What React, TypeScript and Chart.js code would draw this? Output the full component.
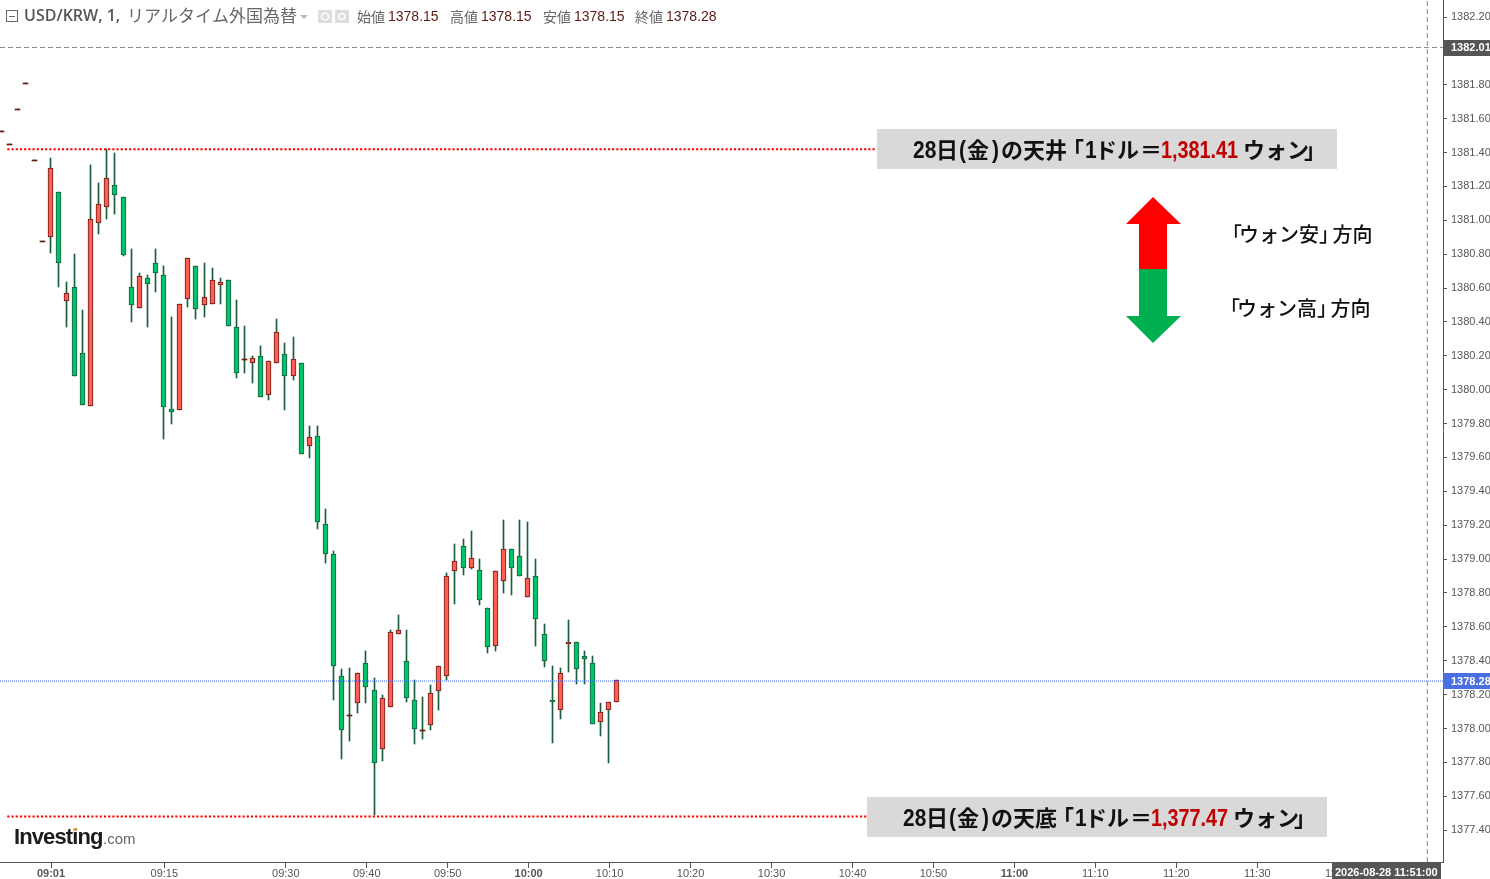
import React, { useEffect, useRef } from "react";
import { Chart, registerables } from "chart.js";

Chart.register(...registerables);

const opens = [1381.527,1381.45,1381.657,1381.81,1381.356,1380.878,
1380.901,1381.167,1380.524,1380.606,1380.217,1379.904,1380.984,1381.079,1381.208,1381.138,
1380.606,1380.482,1380.659,1380.748,1380.677,1379.886,1379.88,1380.535,1380.73,1380.5,
1380.506,1380.618,1380.648,1380.37,1380.181,1380.158,1380.199,1379.969,1380.158,1380.211,
1380.081,1380.158,1379.668,1379.727,1379.207,1379.03,1378.31,1378.08,1378.151,1378.387,
1378.227,1377.879,1378.127,1378.558,1378.398,1378.168,1377.991,1378.021,1378.221,1378.31,
1378.93,1379.077,1378.947,1378.936,1378.711,1378.487,1378.871,1379.06,1379.018,1378.776,
1378.9,1378.558,1378.168,1378.109,1378.499,1378.511,1378.428,1378.387,1378.038,1378.109,1378.156];
const closes = [1381.527,1381.45,1381.657,1381.81,1381.356,1380.878,
1381.309,1380.748,1380.571,1380.081,1379.91,1381.008,1381.096,1381.25,1381.149,1380.795,
1380.5,1380.671,1380.624,1380.689,1379.898,1379.868,1380.506,1380.777,1380.476,1380.547,
1380.648,1380.636,1380.376,1380.099,1380.181,1380.187,1379.957,1380.169,1380.341,1380.081,
1380.181,1379.62,1379.721,1379.219,1379.03,1378.369,1377.991,1378.08,1378.328,1378.245,
1377.796,1378.18,1378.57,1378.581,1378.18,1377.997,1377.991,1378.21,1378.369,1378.9,
1378.989,1378.947,1379.006,1378.759,1378.481,1378.93,1379.06,1378.947,1378.9,1378.888,
1378.646,1378.398,1378.156,1378.328,1378.511,1378.351,1378.41,1378.027,1378.097,1378.156,1378.286];
const highs = [1381.527,1381.45,1381.657,1381.81,1381.356,1380.878,
1381.368,1381.167,1380.636,1380.801,1380.47,1381.326,1381.22,1381.421,1381.397,1381.138,
1380.831,1380.689,1380.677,1380.831,1380.73,1380.429,1380.506,1380.777,1380.73,1380.748,
1380.718,1380.659,1380.648,1380.53,1380.376,1380.2,1380.258,1380.169,1380.417,1380.276,
1380.311,1380.158,1379.786,1379.786,1379.296,1379.048,1378.351,1378.357,1378.328,1378.457,
1378.298,1378.198,1378.581,1378.67,1378.581,1378.286,1378.186,1378.257,1378.369,1378.918,
1379.089,1379.119,1379.166,1379.001,1378.711,1378.93,1379.231,1379.06,1379.231,1379.219,
1379.001,1378.617,1378.369,1378.357,1378.641,1378.511,1378.457,1378.428,1378.151,1378.156,1378.286];
const lows = [1381.527,1381.45,1381.657,1381.81,1381.356,1380.878,
1380.807,1380.606,1380.37,1380.081,1379.91,1379.904,1380.919,1381.008,1381.037,1380.789,
1380.4,1380.482,1380.37,1380.577,1379.709,1379.798,1379.88,1380.488,1380.417,1380.429,
1380.506,1380.506,1380.376,1380.069,1380.099,1380.04,1379.957,1379.939,1380.158,1379.88,
1380.057,1379.62,1379.597,1379.178,1378.977,1378.168,1377.82,1377.926,1378.092,1378.151,
1377.49,1377.808,1378.127,1378.558,1378.156,1377.909,1377.938,1377.991,1378.109,1378.286,
1378.735,1378.906,1378.942,1378.729,1378.446,1378.457,1378.8,1378.788,1378.9,1378.776,
1378.487,1378.363,1377.915,1378.056,1378.334,1378.263,1378.263,1378.027,1377.956,1377.796,1378.156];

const firstMinute = -6; // minutes relative to 09:01
const timeTickMinutes = [0,14,29,39,49,59,69,79,89,99,109,119,129,139,149,159];
const timeTickLabels = ["09:01","09:15","09:30","09:40","09:50","10:00","10:10","10:20","10:30","10:40","10:50","11:00","11:10","11:20","11:30","11:40"];
const boldTimeLabels = ["09:01","10:00","11:00"];
const priceTicks = [1382.2,1381.8,1381.6,1381.4,1381.2,1381,1380.8,1380.6,1380.4,1380.2,1380,1379.8,1379.6,1379.4,1379.2,1379,1378.8,1378.6,1378.4,1378.2,1378,1377.8,1377.6,1377.4];

const ceilingLevel = 1381.42;
const floorLevel = 1377.48;
const lastPrice = 1378.28;
const crossPrice = 1382.02;
const crossMinute = 170;

const minutes = opens.map((_, i) => firstMinute + i);
const FONT_JP = '"Noto Sans CJK JP"';
const LATIN = '"Liberation Sans"';

function seg(ctx: any, x: number, y: number, parts: [string, string, string, number?][]) {
  let cx = x;
  for (const [t, font, color, adv] of parts) {
    ctx.font = font;
    ctx.fillStyle = color;
    ctx.fillText(t, cx, y);
    cx += adv ?? ctx.measureText(t).width;
  }
  return cx;
}

const snapPlugin = {
  id: "snap",
  beforeDatasetsDraw(chart: any) {
    chart.data.datasets.forEach((ds: any, i: number) => {
      if (ds.type === "line") return;
      const meta = chart.getDatasetMeta(i);
      meta.data.forEach((el: any) => {
        if (!el.$snapped) {
          el.x = Math.round(el.x - 1.3) + 0.5;
          el.$snapped = true;
        }
        const a = Math.round(el.y);
        let b = Math.round(el.base);
        if (ds.label === "body" && Math.abs(a - b) < 1) b = a + 1;
        el.y = a;
        el.base = b;
        el.height = b - a;
      });
    });
  },
};

const overlayPlugin = {
  id: "overlay",
  afterDraw(chart: any) {
    const ctx = chart.ctx;
    const yS = chart.scales.y;
    const xS = chart.scales.x;
    ctx.save();
    ctx.textBaseline = "middle";
    ctx.textAlign = "left";

    // header
    ctx.strokeStyle = "#666";
    ctx.lineWidth = 1;
    ctx.strokeRect(6.5, 10.5, 11, 11);
    ctx.beginPath(); ctx.moveTo(9, 16.5); ctx.lineTo(15, 16.5); ctx.stroke();
    seg(ctx, 24, 16, [["USD/KRW, 1,", `600 16px "Open Sans"`, "#555"]]);
    seg(ctx, 127, 16, [["リアルタイム外国為替", `17px ${FONT_JP}`, "#666"]]);
    ctx.fillStyle = "#bbb";
    ctx.beginPath(); ctx.moveTo(300, 15); ctx.lineTo(308, 15); ctx.lineTo(304, 19); ctx.fill();
    ctx.fillStyle = "#ddd";
    ctx.fillRect(318, 10, 14, 13);
    ctx.fillRect(335, 10, 14, 13);
    ctx.strokeStyle = "#fff"; ctx.lineWidth = 1.5;
    ctx.beginPath(); ctx.arc(325, 16.5, 3.5, 0, Math.PI * 2); ctx.stroke();
    ctx.beginPath(); ctx.arc(342, 16.5, 3, 0, Math.PI * 2); ctx.stroke();
    const hdr: [string, string, number][] = [["始値","1378.15",357],["高値","1378.15",450],["安値","1378.15",543],["終値","1378.28",635]];
    hdr.forEach(([k, v, x]) => {
      seg(ctx, x, 17, [[k, `14px ${FONT_JP}`, "#666", 31], [v, `14px ${LATIN}`, "#5b1a14"]]);
    });

    // annotation boxes
    const note = (boxX: number, textX: number, level: number, word: string, val: string) => {
      const cy = Math.round(yS.getPixelForValue(level));
      ctx.fillStyle = "#d9d9d9";
      ctx.fillRect(boxX, cy - 20, 460, 40);
      const j = `bold 22px ${FONT_JP}`;
      const l = `bold 23px ${LATIN}`;
      const items: [string, number, string, string, number][] = [
        ["28", 0, l, "#111", 0.91], ["日", 23, j, "#111", 1], ["(", 46, l, "#111", 0.91], ["金", 54, j, "#111", 1],
        [")", 79, l, "#111", 0.91], ["の", 88, j, "#111", 1], [word, 110, j, "#111", 1], ["「", 149, j, "#111", 1],
        ["1", 172, l, "#111", 0.91], ["ドル", 182, j, "#111", 1], ["＝", 227, j, "#111", 1], [val, 248, l, "#c00000", 0.86],
        ["ウォン", 330, j, "#111", 1], ["」", 391, j, "#111", 1],
      ];
      ctx.textBaseline = "alphabetic";
      items.forEach(([t, dx, font, color, sx]) => {
        ctx.save();
        ctx.font = font; ctx.fillStyle = color;
        ctx.translate(textX + dx, cy + 9);
        ctx.scale(sx, 1);
        ctx.fillText(t, 0, 0);
        ctx.restore();
      });
      ctx.textBaseline = "middle";
    };
    note(877, 913, ceilingLevel, "天井", "1,381.41");
    note(867, 903, floorLevel, "天底", "1,377.47");

    // direction arrows
    ctx.fillStyle = "#ff0000";
    ctx.beginPath();
    [[1153,197],[1181,224],[1167,224],[1167,269],[1139,269],[1139,224],[1126,224]].forEach(([x,y],i)=> i?ctx.lineTo(x,y):ctx.moveTo(x,y));
    ctx.closePath(); ctx.fill();
    ctx.fillStyle = "#00b050";
    ctx.beginPath();
    [[1139,269],[1167,269],[1167,316],[1181,316],[1153,343],[1126,316],[1139,316]].forEach(([x,y],i)=> i?ctx.lineTo(x,y):ctx.moveTo(x,y));
    ctx.closePath(); ctx.fill();
    const dirLabel = (dx: number, y: number, word: string) => {
      ctx.font = `500 20px ${FONT_JP}`;
      ctx.fillStyle = "#111";
      ctx.fillText("「", 1222 + dx, y);
      ctx.fillText("ウォン" + word, 1239 + dx, y);
      ctx.fillText("」", 1319 + dx, y);
      ctx.fillText("方向", 1332.5 + dx, y);
    };
    dirLabel(0, 234, "安");
    dirLabel(-2, 308, "高");

    // logo
    ctx.font = `bold 22px ${LATIN}`;
    ctx.letterSpacing = "-0.9px";
    ctx.fillStyle = "#1c1c1c";
    ctx.fillText("Investing", 14, 838);
    ctx.letterSpacing = "0px";
    ctx.font = `15px ${LATIN}`;
    ctx.fillStyle = "#666";
    ctx.fillText(".com", 103, 840);
    ctx.fillStyle = "#f5a623";
    ctx.fillRect(73.5, 828, 3, 3);

    // axis badges
    const area = chart.chartArea;
    const badge = (value: number, text: string, bg: string) => {
      const y = yS.getPixelForValue(value);
      ctx.fillStyle = bg;
      ctx.fillRect(area.right, Math.round(y) - 8, 47, 16);
      ctx.font = `bold 11px ${LATIN}`;
      ctx.fillStyle = "#fff";
      ctx.fillText(text, 1451, y + 0.5);
    };
    badge(lastPrice, "1378.28", "#4a6fe3");
    badge(crossPrice, "1382.01", "#555");
    const cx = xS.getPixelForValue(crossMinute);
    ctx.fillStyle = "#555";
    ctx.fillRect(1332, area.bottom + 1, 109, 17);
    ctx.font = `bold 11px ${LATIN}`;
    ctx.fillStyle = "#fff";
    ctx.textAlign = "center";
    ctx.fillText("2026-08-28 11:51:00", cx - 41, 873);
    ctx.restore();
  },
};

export default function App() {
  const ref = useRef<HTMLCanvasElement>(null);
  useEffect(() => {
    document.body.style.margin = "0";
    document.documentElement.style.overflow = "hidden";
    const xMin = -6.3, xMax = 171.94;
    const levelLine = (label: string, pts: number[][], color: string, dash: number[], width: number, order: number) => ({
      type: "line", label, data: pts.map(([x, y]) => ({ x, y })), borderColor: color, borderDash: dash,
      borderWidth: width, pointRadius: 0, fill: false, tension: 0, order,
    });
    const chart = new Chart(ref.current as any, {
      type: "bar",
      data: {
        datasets: [
          levelLine("ceiling", [[-5.4, ceilingLevel], [101.8, ceilingLevel]], "#ff0000", [2.2, 2], 2, 1),
          levelLine("floor", [[-5.4, floorLevel], [100.8, floorLevel]], "#ff0000", [2.2, 2], 2, 1),
          levelLine("last", [[xMin, lastPrice], [xMax, lastPrice]], "#2f5fe8", [1, 1], 1, 1),
          levelLine("crossH", [[xMin, crossPrice], [xMax, crossPrice]], "#8a8a8a", [5, 3], 1, 1),
          levelLine("crossV", [[crossMinute, 1377.212], [crossMinute, 1382.3]], "#8a8a8a", [5, 3], 1, 1),
          {
            type: "bar", label: "body", order: 2,
            data: minutes.map((x, i) => ({ x, y: [opens[i], closes[i]] })),
            barThickness: 5, grouped: false, borderSkipped: false, borderWidth: (c: any) => {
              const i = c.dataIndex; return opens[i] === closes[i] ? 0 : 1;
            },
            backgroundColor: (c: any) => {
              const i = c.dataIndex;
              if (opens[i] === closes[i]) return "#6b1a14";
              return closes[i] > opens[i] ? "#ff5f52" : "#00c46a";
            },
            borderColor: (c: any) => (closes[c.dataIndex] > opens[c.dataIndex] ? "#6b1a14" : "#1a5c3c"),
          },
          {
            type: "bar", label: "wick", order: 3,
            data: minutes.map((x, i) => ({ x, y: [lows[i], highs[i]] })),
            barThickness: 1, grouped: false, borderWidth: 0, backgroundColor: "#1a5c3c",
          },
        ] as any,
      },
      options: {
        responsive: false, animation: false, devicePixelRatio: 1,
        layout: { padding: 0 },
        plugins: { legend: { display: false }, tooltip: { enabled: false } },
        scales: {
          x: {
            type: "linear", min: xMin, max: xMax, offset: false,
            grid: { drawOnChartArea: false, tickLength: 6, tickColor: "#555", offset: false },
            border: { color: "#555", width: 1 },
            afterBuildTicks: (s: any) => { s.ticks = timeTickMinutes.map((value) => ({ value })); },
            afterFit: (s: any) => { s.height = 17; s.paddingLeft = 0; s.paddingRight = 0; },
            ticks: {
              autoSkip: false, maxRotation: 0, minRotation: 0, padding: -1, color: "#555",
              callback: (v: any) => timeTickLabels[timeTickMinutes.indexOf(v)] ?? "",
              font: (c: any) => ({ family: "Liberation Sans", size: 11, weight: boldTimeLabels.includes(c.tick?.label) ? "bold" : "normal" }),
            },
          },
          y: {
            type: "linear", position: "right", min: 1377.212, max: 1382.3004,
            grid: { drawOnChartArea: false, tickLength: 4, tickColor: "#555" },
            border: { color: "#555", width: 1 },
            afterBuildTicks: (s: any) => { s.ticks = priceTicks.map((value) => ({ value })); },
            afterFit: (s: any) => { s.width = 47; s.paddingTop = 0; s.paddingBottom = 0; },
            ticks: {
              autoSkip: false, padding: 4, color: "#555",
              callback: (v: any) => Number(v).toFixed(2),
              font: { family: "Liberation Sans", size: 11 },
            },
          },
        },
      } as any,
      plugins: [snapPlugin, overlayPlugin],
    });
    return () => chart.destroy();
  }, []);
  return <canvas ref={ref} width={1490} height={879} style={{ display: "block" }} />;
}
